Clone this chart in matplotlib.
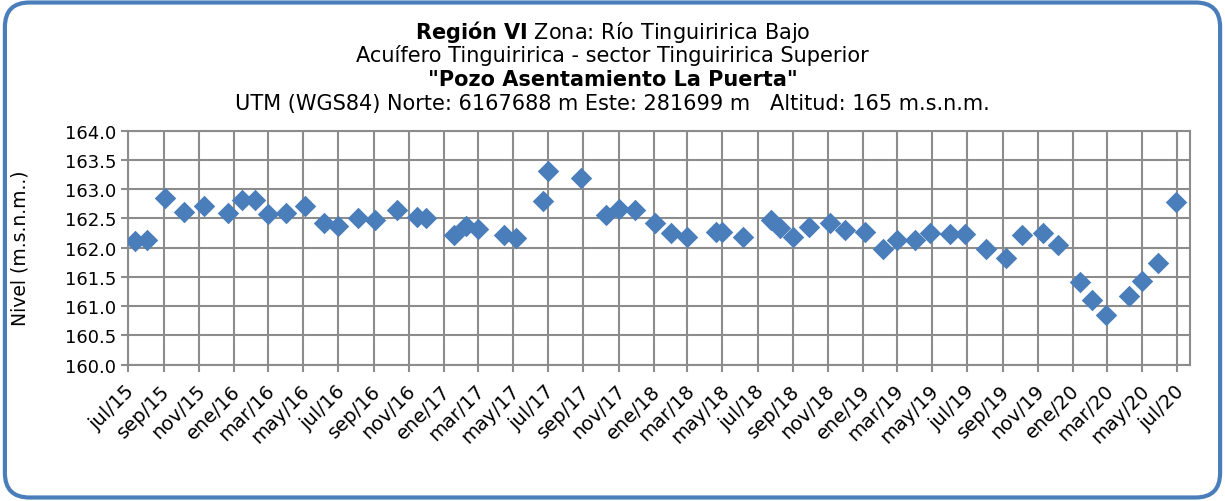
import matplotlib.pyplot as plt
import matplotlib.dates as mdates
from matplotlib.patches import FancyBboxPatch
import numpy as np
import datetime as dt

# fechas de medición y nivel (m.s.n.m.)
fechas = ["2015-07-13", "2015-08-03", "2015-09-04", "2015-10-06", "2015-11-10",
          "2015-12-22", "2016-01-15", "2016-02-07", "2016-03-01", "2016-04-01",
          "2016-05-04", "2016-06-07", "2016-07-01", "2016-08-04", "2016-09-03",
          "2016-10-12", "2016-11-16", "2016-12-01", "2017-01-19", "2017-02-09",
          "2017-03-01", "2017-04-16", "2017-05-07", "2017-06-22", "2017-07-01",
          "2017-08-27", "2017-10-10", "2017-11-01", "2017-11-30", "2018-01-04",
          "2018-02-01", "2018-02-28", "2018-04-19", "2018-05-01", "2018-06-05",
          "2018-07-25", "2018-08-10", "2018-09-01", "2018-09-29", "2018-11-04",
          "2018-12-01", "2019-01-05", "2019-02-04", "2019-03-01", "2019-04-01",
          "2019-04-28", "2019-06-01", "2019-06-28", "2019-08-02", "2019-09-07",
          "2019-10-04", "2019-11-10", "2019-12-07", "2020-01-13", "2020-02-04",
          "2020-02-28", "2020-04-07", "2020-05-01", "2020-05-28", "2020-06-28"]
nivel = [162.12, 162.13, 162.85, 162.61, 162.71,
         162.60, 162.81, 162.82, 162.58, 162.60,
         162.72, 162.42, 162.37, 162.51, 162.48,
         162.64, 162.53, 162.50, 162.22, 162.37,
         162.32, 162.22, 162.16, 162.79, 163.31,
         163.19, 162.56, 162.66, 162.65, 162.43,
         162.25, 162.19, 162.26, 162.26, 162.19,
         162.47, 162.34, 162.18, 162.35, 162.42,
         162.30, 162.26, 161.98, 162.13, 162.14,
         162.25, 162.23, 162.23, 161.98, 161.82,
         162.21, 162.25, 162.05, 161.42, 161.11,
         160.85, 161.18, 161.43, 161.74, 162.78]

meses = ["ene", "feb", "mar", "abr", "may", "jun",
         "jul", "ago", "sep", "oct", "nov", "dic"]

fechas_dt = [dt.datetime.strptime(f, "%Y-%m-%d") for f in fechas]
# marcas del eje x cada dos meses
marcas = [dt.datetime(2015 + (6 + i) // 12, (6 + i) % 12 + 1, 1) for i in range(0, 61, 2)]

fig = plt.figure(figsize=(12.25, 5.02), dpi=100)
plt.rcParams['font.family'] = ['DejaVu Sans']

# marco redondeado
marco = FancyBboxPatch((0.004, 0.007), 0.992, 0.986,
                       boxstyle="round,pad=0,rounding_size=0.02",
                       transform=fig.transFigure, fill=False,
                       edgecolor="#4A7EBB", linewidth=3, mutation_aspect=2.44)
fig.patches.append(marco)

ax = fig.add_axes([128 / 1225, 1 - 365.7 / 502, (1190 - 128) / 1225, (365.7 - 131.7) / 502])
ax.scatter(fechas_dt, nivel, marker="D", s=120, color="#4A7EBB", zorder=3, linewidths=0)

ax.set_ylim(160, 164)
ax.set_yticks(np.arange(160, 164.01, 0.5))
ax.yaxis.set_major_formatter(plt.FuncFormatter(lambda v, p: f"{v:.1f}"))
ax.set_xlim(dt.datetime(2015, 7, 1), dt.datetime(2020, 7, 23))
ax.set_xticks(marcas)
ax.set_xticklabels([])

ax.grid(True, color="#8C8C8C", linewidth=1.5)
ax.set_axisbelow(True)
for s in ax.spines.values():
    s.set_color("#8C8C8C")
    s.set_linewidth(1.5)
ax.tick_params(axis="both", length=5, width=1.5, color="#8C8C8C", labelsize=13)

# etiquetas de fecha inclinadas
for m in marcas:
    ax.annotate(f"{meses[m.month - 1]}/{m.year % 100:02d}", xy=(m, 0),
                xycoords=("data", "axes fraction"), xytext=(-3, -16),
                textcoords="offset pixels", rotation=45, ha="right", va="top",
                rotation_mode="anchor", fontsize=14)

ax.set_ylabel("Nivel (m.s.n.m..)", fontsize=13.5)
ax.yaxis.set_label_coords(-0.093, 0.5)

# encabezado
fs = 15
fig.text(0.5, 1 - 32 / 502, r"$\bf{Región\ VI}$ Zona: Río Tinguiririca Bajo", ha="center", va="center", fontsize=fs)
fig.text(0.5, 1 - 56 / 502, "Acuífero Tinguiririca - sector Tinguiririca Superior", ha="center", va="center", fontsize=fs)
fig.text(0.5, 1 - 80 / 502, '"Pozo Asentamiento La Puerta"', ha="center", va="center", fontsize=fs, fontweight="bold")
fig.text(0.5, 1 - 104 / 502, "UTM (WGS84) Norte: 6167688 m Este: 281699 m   Altitud: 165 m.s.n.m.",
         ha="center", va="center", fontsize=fs)

fig.savefig("out.png", dpi=100)
